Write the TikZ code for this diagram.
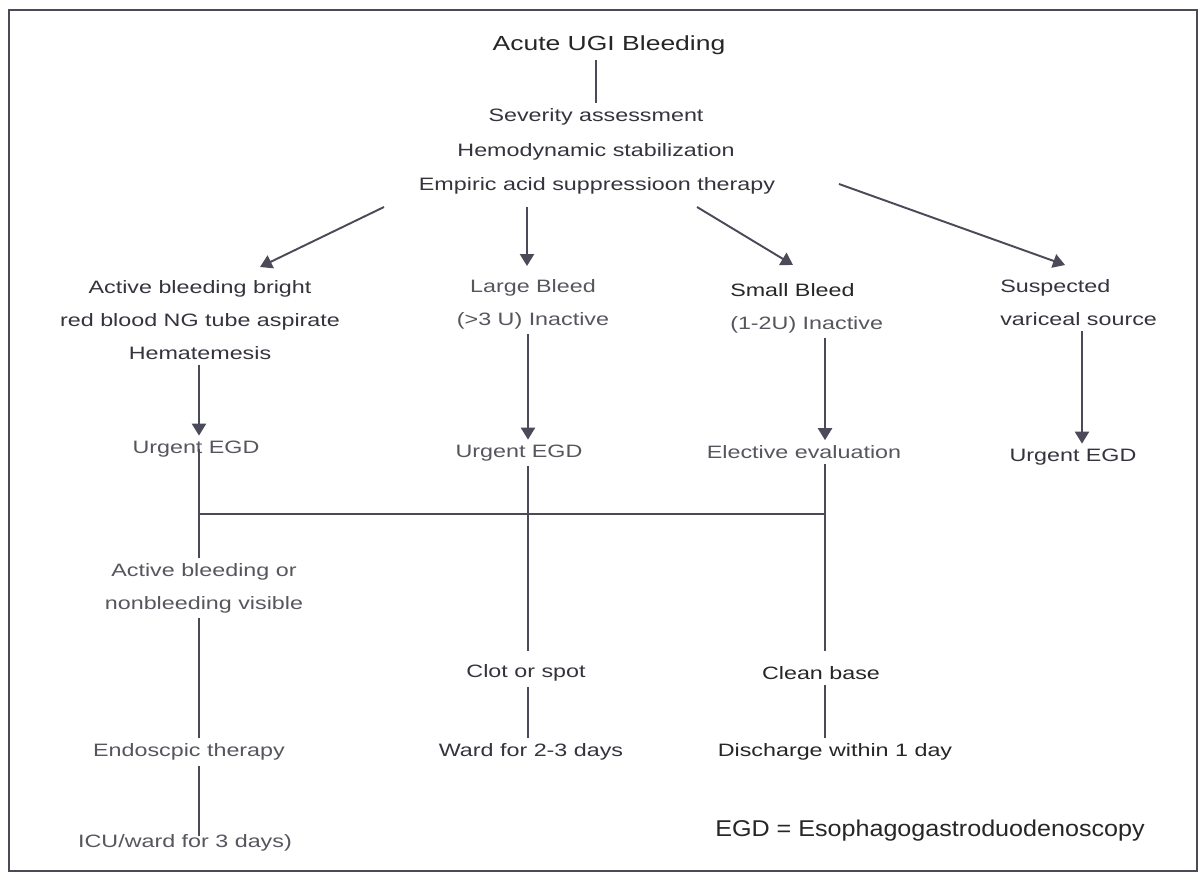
\documentclass[tikz,border=0pt]{standalone}
\usepackage{fontspec}
\setmainfont[FakeStretch=1.3]{Liberation Sans}
\newfontfamily\legendfont[FakeStretch=1.1]{Liberation Sans}
\usetikzlibrary{arrows.meta}
\definecolor{ln}{HTML}{4A4A58}
\definecolor{txt}{HTML}{34343E}
\definecolor{txtg}{HTML}{56565E}
\begin{document}
\begin{tikzpicture}[x=0.02cm,y=-0.02cm,
  lbl/.style={inner sep=3pt,outer sep=0pt,font=\fontsize{10.2}{18.7}\selectfont,text=txt,align=center},
  lblg/.style={lbl,text=txtg},
  conn/.style={draw=ln,line width=1.1pt},
  arr/.style={conn,-{Triangle[length=6.8pt,width=8pt]}},
]
\fill[white] (0,0) rectangle (1201,876);
\useasboundingbox (0,0) rectangle (1201,876);
\draw[ln,line width=1.1pt] (9,10) rectangle (1197,871);

% column coordinates
\coordinate (c0) at (596,0);
\coordinate (c1) at (199,0);
\coordinate (c2) at (528,0);
\coordinate (c3) at (825,0);
\coordinate (c4) at (1082,0);
\coordinate (hj) at (0,514);

% nodes
\node[lbl,font=\fontsize{11.6}{14}\selectfont,text=black!85] (head) at (609,45) {Acute UGI Bleeding};
\node[lbl] (sev) at (596,117) {Severity assessment};
\node[lbl] (hemo) at (596,152) {Hemodynamic stabilization};
\node[lbl] (emp) at (597,186) {Empiric acid suppressioon therapy};

\node[lbl] (act) at (200,320) {Active bleeding bright\\red blood NG tube aspirate\\Hematemesis};
\node[lblg] (large) at (533,304) {Large Bleed\\(>3 U) Inactive};
\node[lbl,align=left,anchor=west] (small) at (725,308) {{\color{black!85}Small Bleed}\\{\color{txtg}(1-2U) Inactive}};
\node[lbl,align=left,anchor=west] (susp) at (995,303) {Suspected\\variceal source};

\node[lblg] (uegdL) at (196,449) {Urgent EGD};
\node[lblg] (uegdM) at (519,453) {Urgent EGD};
\node[lblg] (elect) at (804,452) {Elective evaluation};
\node[lbl] (uegdR) at (1073,457) {Urgent EGD};

\node[lblg] (abo) at (204,588) {Active bleeding or\\nonbleeding visible};
\node[lblg] (endo) at (189,752) {Endoscpic therapy};
\node[lblg] (icu) at (185,843) {ICU/ward for 3 days)};
\node[lbl] (clot) at (526,673) {Clot or spot};
\node[lbl] (ward) at (531,752) {Ward for 2-3 days};
\node[lbl,text=black!85] (clean) at (821,673) {Clean base};
\node[lbl,text=black!85] (disch) at (835,752) {Discharge within 1 day};
\node[lbl,font=\legendfont\fontsize{13}{15}\selectfont,text=black!85] (legend) at (930,831) {EGD = Esophagogastroduodenoscopy};

% diagonal arrow ends
\coordinate (s1) at (384,207); \coordinate (e1) at (260,267);
\coordinate (s2) at (527,207); \coordinate (e2) at (527,266);
\coordinate (s3) at (697,207); \coordinate (e3) at (793,265);
\coordinate (s4) at (839,184); \coordinate (e4) at (1065,265);

% connectors
\draw[conn] (head.south -| c0) -- (sev.north -| c0);
\draw[arr] (s1) -- (e1);
\draw[arr] (s2) -- (e2);
\draw[arr] (s3) -- (e3);
\draw[arr] (s4) -- (e4);

\draw[arr] (act.south -| c1) -- (uegdL.north -| c1);
\draw[arr] (large.south -| c2) -- (uegdM.north -| c2);
\draw[arr] (small.south -| c3) -- (elect.north -| c3);
\draw[arr] (susp.south -| c4) -- (uegdR.north -| c4);

\draw[conn] (uegdL.center -| c1) -- (abo.north -| c1);
\draw[conn] (hj -| c1) -- (hj -| c3);
\draw[conn] (abo.south -| c1) -- (endo.north -| c1);
\draw[conn,shorten >=-4pt] (endo.south -| c1) -- (icu.north -| c1);

\draw[conn,shorten >=5pt] (uegdM.south -| c2) -- (clot.north -| c2);
\draw[conn] (clot.south -| c2) -- (ward.north -| c2);

\draw[conn,shorten >=6pt] (elect.south -| c3) -- (clean.north -| c3);
\draw[conn,line width=0.8pt] (clean.south -| c3) -- (disch.north -| c3);
\end{tikzpicture}
\end{document}
